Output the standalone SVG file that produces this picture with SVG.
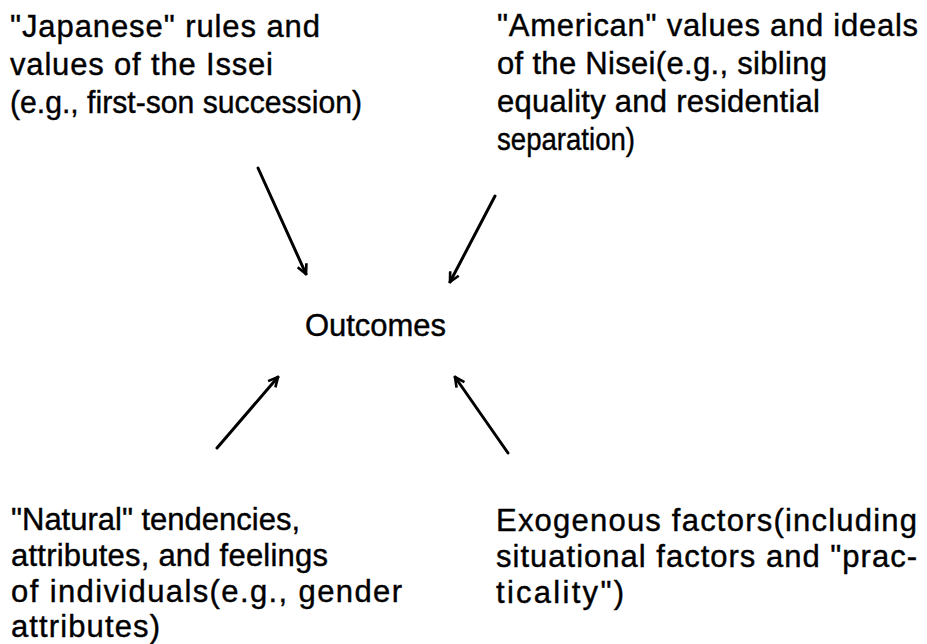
<svg xmlns="http://www.w3.org/2000/svg" width="927" height="644" viewBox="0 0 927 644">
  <style>
    .lbl { font-family: "Liberation Sans", Arial, sans-serif; font-size: 31px; fill: #000; stroke: #000; stroke-width: 0.4; }
    .arrow { stroke: #000; stroke-width: 3; fill: none; stroke-linecap: round; marker-end: url(#head); }
  </style>
  <defs>
    <marker id="head" viewBox="0 0 10 10" refX="9" refY="5" markerWidth="4" markerHeight="4" orient="auto" markerUnits="strokeWidth">
      <path d="M1,1 L9,5 L1,9" fill="none" stroke="#000" stroke-width="2.2" stroke-linejoin="miter"/>
    </marker>
  </defs>
  <rect width="927" height="644" fill="#fff"/>

  <g id="japanese">
    <text class="lbl">
      <tspan x="10" y="37" textLength="310">"Japanese" rules and</tspan>
      <tspan x="10" y="75" textLength="263">values of the Issei</tspan>
      <tspan x="10" y="113" textLength="352" lengthAdjust="spacingAndGlyphs">(e.g., first-son succession)</tspan>
    </text>
  </g>

  <g id="american">
    <text class="lbl">
      <tspan x="497" y="36" textLength="421">"American" values and ideals</tspan>
      <tspan x="497" y="74" textLength="330">of the Nisei(e.g., sibling</tspan>
      <tspan x="497" y="112" textLength="323">equality and residential</tspan>
      <tspan x="497" y="150" textLength="138" lengthAdjust="spacingAndGlyphs">separation)</tspan>
    </text>
  </g>

  <g id="outcomes">
    <text class="lbl" x="305" y="336" textLength="141">Outcomes</text>
  </g>

  <g id="natural">
    <text class="lbl">
      <tspan x="11" y="530" textLength="289">"Natural" tendencies,</tspan>
      <tspan x="11" y="566" textLength="317">attributes, and feelings</tspan>
      <tspan x="11" y="602" textLength="391">of individuals(e.g., gender</tspan>
      <tspan x="11" y="637" textLength="149">attributes)</tspan>
    </text>
  </g>

  <g id="exogenous">
    <text class="lbl">
      <tspan x="496" y="531" textLength="421">Exogenous factors(including</tspan>
      <tspan x="496" y="567" textLength="421">situational factors and "prac-</tspan>
      <tspan x="496" y="603" textLength="128">ticality")</tspan>
    </text>
  </g>

  <g id="connectors">
    <line class="arrow" x1="258" y1="168" x2="306" y2="274"/>
    <line class="arrow" x1="495" y1="196" x2="450" y2="282"/>
    <line class="arrow" x1="217" y1="448" x2="278" y2="377"/>
    <line class="arrow" x1="508" y1="453" x2="455" y2="377"/>
  </g>
</svg>
